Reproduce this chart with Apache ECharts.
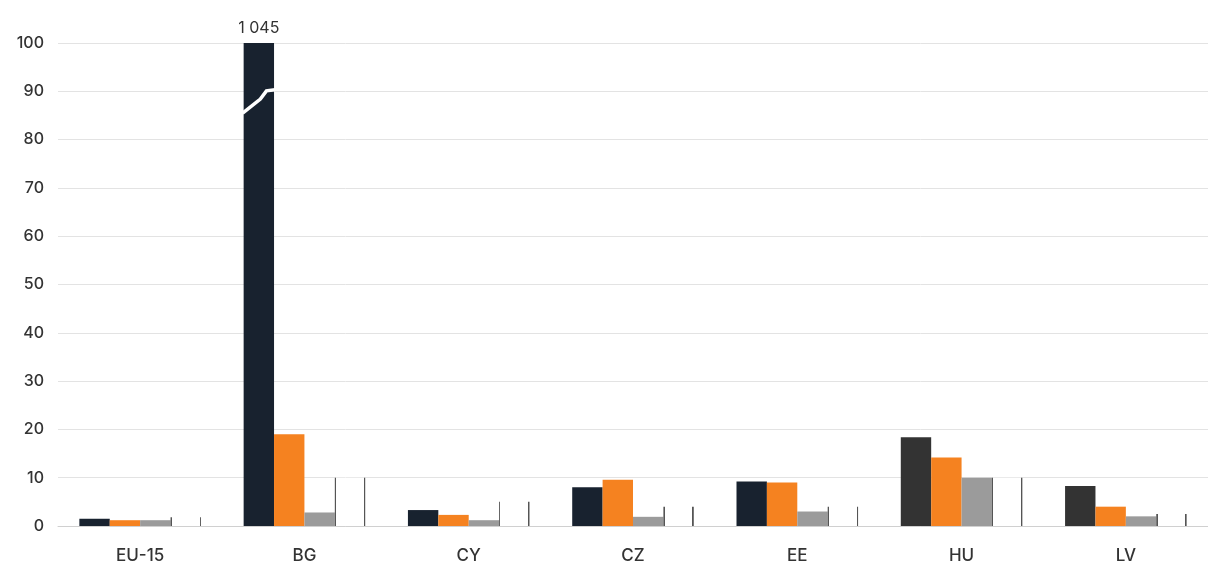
<!DOCTYPE html>
<html><head><meta charset="utf-8">
<script src="https://cdn.jsdelivr.net/npm/echarts@6/dist/echarts.min.js"></script>
<style>html,body{margin:0;padding:0;background:#fff}#c{width:1208px;height:565px}</style>
</head><body><div id="c"></div>
<script>
const categories = ['EU-15','BG','CY','CZ','EE','HU','LV'];
const seriesA = [1.5, 1045, 3.3, 8, 9.2, 18.4, 8.3];
const seriesB = [1.2, 19, 2.3, 9.6, 9, 14.2, 4];
const seriesC = [1.2, 2.8, 1.2, 1.9, 3, 10, 2];
const seriesD = [1.8, 10, 5, 4, 4, 10, 2.5];
const seriesAColors = ['#18222f','#18222f','#18222f','#18222f','#18222f','#333333','#333333'];
const yTicks = [0,10,20,30,40,50,60,70,80,90,100];
const axisMax = 100;

const chart = echarts.init(document.getElementById('c'));
const font = 'Inter, Roboto, sans-serif';
const whiteFill = new echarts.graphic.LinearGradient(0,0,1,0,[
  {offset:0,color:'#555'},{offset:0.045,color:'#555'},{offset:0.045,color:'#fff'},
  {offset:0.955,color:'#fff'},{offset:0.955,color:'#555'},{offset:1,color:'#555'}]);

chart.setOption({
  animation:false,
  grid:{left:58,right:-2,top:43,bottom:39,containLabel:false},
  xAxis:{type:'category',data:categories,
    axisLine:{show:true,lineStyle:{color:'#d0d0d0'}},axisTick:{show:false},
    axisLabel:{color:'#333',fontFamily:font,fontSize:17,fontWeight:500,margin:21}},
  yAxis:{type:'value',min:yTicks[0],max:axisMax,interval:10,
    axisLine:{show:false},axisTick:{show:false},
    splitLine:{lineStyle:{color:'#e3e3e3'}},
    axisLabel:{color:'#333',fontFamily:font,fontSize:16,fontWeight:500,margin:14}},
  series:[
    {type:'bar',barGap:'0%',barCategoryGap:'26%',
     data:seriesA.map((v,i)=>({value:Math.min(v,axisMax),itemStyle:{color:seriesAColors[i]},
       label:{show:v>axisMax,position:'top',distance:7,color:'#333',fontFamily:font,fontSize:16,
         formatter:()=>v.toLocaleString('fr-FR').replace(/\u202f|\u00a0/g,' ')}}))},
    {type:'bar',data:seriesB,itemStyle:{color:'#f58220'}},
    {type:'bar',data:seriesC,itemStyle:{color:'#9b9b9b'}},
    {type:'bar',data:seriesD,itemStyle:{color:whiteFill}}
  ]
});

// axis break marker on clipped bar
const brkIdx = seriesA.findIndex(v=>v>axisMax);
if (brkIdx>=0){
  const lo = chart.convertToPixel({gridIndex:0},[brkIdx,85.5]);
  const hi = chart.convertToPixel({gridIndex:0},[brkIdx,90.3]);
  const catW = chart.getModel().getComponent('xAxis',0).axis.getBandWidth();
  const bw = catW*0.74/4;
  const x0 = lo[0] - 2*bw;
  const dy = lo[1]-hi[1];
  chart.setOption({graphic:[{type:'polyline',z:100,smooth:0.3,
    shape:{points:[[x0-1,lo[1]],[x0+bw*0.55,lo[1]-dy*0.6],[x0+bw*0.75,hi[1]+1],[x0+bw+1,hi[1]]]},
    style:{stroke:'#fff',lineWidth:3.5,fill:null}}]});
}
</script></body></html>
